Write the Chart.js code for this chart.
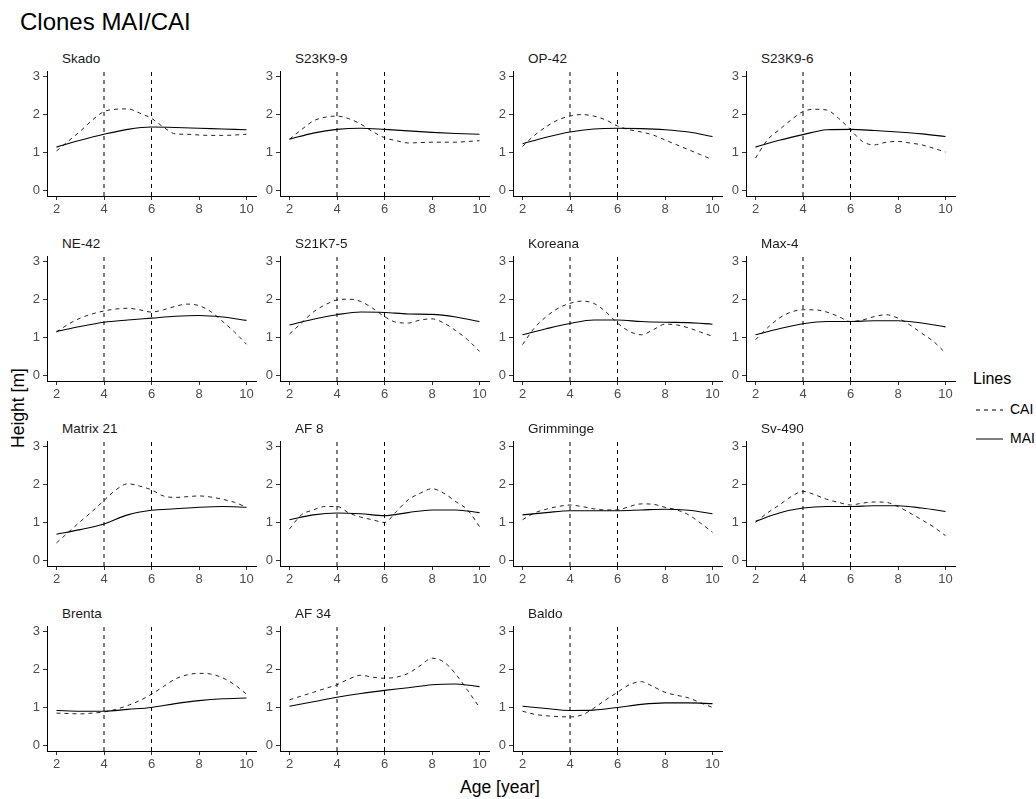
<!DOCTYPE html>
<html>
<head>
<meta charset="utf-8">
<script src="https://cdn.jsdelivr.net/npm/chart.js@4.4.1/dist/chart.umd.min.js"></script>
<style>
  html, body { margin: 0; padding: 0; background: #fff; }
  body { width: 1036px; height: 799px; position: relative; overflow: hidden; font-family: "Liberation Sans", Arial, sans-serif; }
  .pc { position: absolute; }
  .strip { position: absolute; font-size: 13.5px; color: #1a1a1a; white-space: nowrap; line-height: 1; }
  #title { position: absolute; left: 20px; top: 10px; font-size: 24px; color: #000; line-height: 1; }
  #ylab { position: absolute; left: 18px; top: 408px; transform: translate(-50%, -50%) rotate(-90deg); font-size: 17.5px; color: #000; white-space: nowrap; }
  #xlab { position: absolute; left: 500px; top: 787px; transform: translate(-50%, -50%); font-size: 17.5px; color: #000; white-space: nowrap; }
  #legend { position: absolute; left: 973px; top: 370px; font-size: 16px; color: #000; }
  .lk { position: absolute; left: 0; white-space: nowrap; font-size: 14px; }
</style>
</head>
<body>
<div id="title">Clones MAI/CAI</div>
<div id="ylab">Height [m]</div>
<div id="xlab">Age [year]</div>
<div id="legend">
  <div style="position:absolute;left:0;top:0;white-space:nowrap;">Lines</div>
  <div class="lk" style="top:31px;"><svg width="32" height="16" style="vertical-align:middle"><line x1="3" y1="8" x2="30" y2="8" stroke="#000" stroke-width="1" stroke-dasharray="4,4"/></svg><span style="position:absolute;left:37px;top:0px;">CAI</span></div>
  <div class="lk" style="top:60px;"><svg width="32" height="16" style="vertical-align:middle"><line x1="3" y1="8" x2="30" y2="8" stroke="#000" stroke-width="1"/></svg><span style="position:absolute;left:37px;top:0px;">MAI</span></div>
</div>
<script>
// ---- data ----
const clones = ["Skado","S23K9-9","OP-42","S23K9-6","NE-42","S21K7-5","Koreana","Max-4","Matrix 21","AF 8","Grimminge","Sv-490","Brenta","AF 34","Baldo"];
const agesCAI = [2,2.5,3,3.5,4,4.5,5,5.5,6,6.5,7,7.5,8,8.5,9,9.5,10];
const agesMAI = [2,3,4,5,6,7,8,9,10];
const xTicks = [2,4,6,8,10];
const yTicks = [0,1,2,3];
const vLines = [4,6];

const cai_Skado    = [1.04,1.30,1.56,1.85,2.08,2.14,2.15,2.04,1.90,1.67,1.49,1.48,1.46,1.45,1.45,1.46,1.48];
const cai_S23K9_9  = [1.35,1.60,1.83,1.93,1.96,1.89,1.75,1.55,1.39,1.31,1.25,1.26,1.27,1.27,1.27,1.29,1.31];
const cai_OP42     = [1.16,1.45,1.68,1.86,1.96,2.00,1.96,1.86,1.70,1.60,1.54,1.46,1.33,1.20,1.07,0.94,0.81];
const cai_S23K9_6  = [0.85,1.33,1.60,1.86,2.08,2.14,2.12,1.90,1.60,1.29,1.20,1.27,1.29,1.25,1.20,1.11,1.01];
const cai_NE42     = [1.14,1.35,1.51,1.62,1.70,1.75,1.77,1.73,1.67,1.73,1.82,1.88,1.84,1.68,1.42,1.14,0.82];
const cai_S21K7_5  = [1.09,1.38,1.67,1.86,1.99,2.01,1.95,1.77,1.55,1.40,1.38,1.46,1.49,1.38,1.18,0.94,0.63];
const cai_Koreana  = [0.81,1.25,1.55,1.77,1.90,1.96,1.90,1.68,1.38,1.16,1.07,1.20,1.35,1.33,1.25,1.14,1.03];
const cai_Max4     = [0.94,1.25,1.51,1.67,1.73,1.73,1.67,1.55,1.42,1.46,1.55,1.60,1.51,1.33,1.11,0.89,0.59];
const cai_Matrix21 = [0.46,0.74,1.02,1.29,1.58,1.86,2.02,1.96,1.86,1.70,1.66,1.68,1.70,1.67,1.61,1.53,1.40];
const cai_AF8      = [0.83,1.20,1.33,1.42,1.42,1.25,1.14,1.07,1.00,1.29,1.60,1.77,1.89,1.77,1.55,1.33,0.89];
const cai_Grimminge= [1.07,1.25,1.35,1.42,1.46,1.42,1.36,1.33,1.33,1.42,1.49,1.48,1.40,1.33,1.20,0.98,0.74];
const cai_Sv490    = [1.00,1.25,1.46,1.68,1.82,1.73,1.61,1.53,1.46,1.51,1.54,1.53,1.42,1.25,1.07,0.88,0.65];
const cai_Brenta   = [0.85,0.84,0.83,0.85,0.88,0.95,1.05,1.18,1.35,1.55,1.75,1.86,1.90,1.88,1.78,1.60,1.35];
const cai_AF34     = [1.20,1.30,1.40,1.50,1.60,1.75,1.85,1.80,1.77,1.80,1.90,2.10,2.30,2.20,1.88,1.45,1.00];
const cai_Baldo    = [0.90,0.82,0.78,0.76,0.75,0.80,0.98,1.20,1.40,1.60,1.68,1.55,1.40,1.32,1.25,1.12,1.00];

const mai_Skado    = [1.14,1.32,1.48,1.61,1.67,1.66,1.64,1.62,1.60];
const mai_S23K9_9  = [1.35,1.51,1.61,1.64,1.61,1.57,1.53,1.50,1.48];
const mai_OP42     = [1.23,1.40,1.54,1.62,1.64,1.63,1.60,1.54,1.42];
const mai_S23K9_6  = [1.14,1.32,1.47,1.60,1.61,1.58,1.54,1.49,1.42];
const mai_NE42     = [1.16,1.29,1.40,1.46,1.51,1.56,1.58,1.54,1.45];
const mai_S21K7_5  = [1.33,1.48,1.60,1.67,1.66,1.62,1.61,1.54,1.42];
const mai_Koreana  = [1.07,1.23,1.37,1.46,1.46,1.42,1.40,1.39,1.35];
const mai_Max4     = [1.07,1.23,1.36,1.42,1.42,1.44,1.44,1.38,1.28];
const mai_Matrix21 = [0.69,0.81,0.96,1.20,1.32,1.36,1.40,1.42,1.40];
const mai_AF8      = [1.07,1.20,1.25,1.23,1.18,1.26,1.33,1.33,1.26];
const mai_Grimminge= [1.20,1.26,1.31,1.31,1.31,1.33,1.35,1.32,1.23];
const mai_Sv490    = [1.03,1.25,1.38,1.42,1.42,1.44,1.44,1.38,1.29];
const mai_Brenta   = [0.92,0.90,0.90,0.95,1.00,1.10,1.18,1.23,1.25];
const mai_AF34     = [1.03,1.15,1.27,1.37,1.45,1.52,1.60,1.62,1.55];
const mai_Baldo    = [1.03,0.97,0.92,0.93,1.00,1.08,1.12,1.12,1.10];

const caiSeries = [cai_Skado,cai_S23K9_9,cai_OP42,cai_S23K9_6,cai_NE42,cai_S21K7_5,cai_Koreana,cai_Max4,cai_Matrix21,cai_AF8,cai_Grimminge,cai_Sv490,cai_Brenta,cai_AF34,cai_Baldo];
const maiSeries = [mai_Skado,mai_S23K9_9,mai_OP42,mai_S23K9_6,mai_NE42,mai_S21K7_5,mai_Koreana,mai_Max4,mai_Matrix21,mai_AF8,mai_Grimminge,mai_Sv490,mai_Brenta,mai_AF34,mai_Baldo];

// ---- layout ----
const colLeft = [47, 280, 513, 746];
const rowTop0 = 71, rowStep = 185;
const plotW = 209, plotH = 125;
const padL = 40, padT = 8, padR = 14, padB = 26;
const X_MIN = 1.6, X_MAX = 10.4, Y_MIN = -0.15, Y_MAX = 3.15;

Chart.defaults.font.family = '"Liberation Sans", Arial, sans-serif';

clones.forEach((name, i) => {
  const c = i % 4, r = Math.floor(i / 4);
  const left = colLeft[c], top = rowTop0 + r * rowStep;

  const strip = document.createElement('div');
  strip.className = 'strip';
  strip.textContent = name;
  strip.style.left = (left + 15) + 'px';
  strip.style.top = (top - 19) + 'px';
  document.body.appendChild(strip);

  const cv = document.createElement('canvas');
  cv.className = 'pc';
  const w = plotW + padL + padR, h = plotH + padT + padB;
  cv.width = w; cv.height = h;
  cv.style.width = w + 'px'; cv.style.height = h + 'px';
  cv.style.left = (left - padL) + 'px';
  cv.style.top = (top - padT) + 'px';
  document.body.appendChild(cv);

  const datasets = [];
  vLines.forEach(v => datasets.push({
    data: [{x: v, y: Y_MIN}, {x: v, y: Y_MAX}],
    borderColor: '#000', borderWidth: 1, borderDash: [4, 4], pointRadius: 0, tension: 0
  }));
  datasets.push({
    label: 'MAI',
    data: agesMAI.map((a, k) => ({x: a, y: maiSeries[i][k]})),
    borderColor: '#000', borderWidth: 1.1, pointRadius: 0, cubicInterpolationMode: 'monotone'
  });
  datasets.push({
    label: 'CAI',
    data: agesCAI.map((a, k) => ({x: a, y: caiSeries[i][k]})),
    borderColor: '#222', borderWidth: 1, borderDash: [4, 4], pointRadius: 0, cubicInterpolationMode: 'monotone'
  });

  new Chart(cv, {
    type: 'line',
    data: { datasets },
    options: {
      responsive: false, animation: false, devicePixelRatio: 1,
      layout: { padding: { left: 0, top: padT, right: padR, bottom: 0 } },
      plugins: { legend: { display: false }, tooltip: { enabled: false } },
      scales: {
        x: {
          type: 'linear', min: X_MIN, max: X_MAX,
          afterBuildTicks: s => { s.ticks = xTicks.map(v => ({value: v})); },
          afterFit: s => { s.height = padB; s.paddingLeft = 0; s.paddingRight = 0; },
          ticks: { color: '#4d4d4d', font: { size: 13 }, padding: 2, maxRotation: 0, autoSkip: false },
          grid: { display: true, drawOnChartArea: false, drawTicks: true, tickLength: 4, color: '#333', lineWidth: 1 },
          border: { display: true, color: '#000', width: 1 }
        },
        y: {
          type: 'linear', min: Y_MIN, max: Y_MAX,
          afterBuildTicks: s => { s.ticks = yTicks.map(v => ({value: v})); },
          afterFit: s => { s.width = padL; s.paddingTop = 0; s.paddingBottom = 0; },
          ticks: { color: '#4d4d4d', font: { size: 13 }, padding: 3 },
          grid: { display: true, drawOnChartArea: false, drawTicks: true, tickLength: 4, color: '#333', lineWidth: 1 },
          border: { display: true, color: '#000', width: 1 }
        }
      }
    }
  });
});
</script>
</body>
</html>
